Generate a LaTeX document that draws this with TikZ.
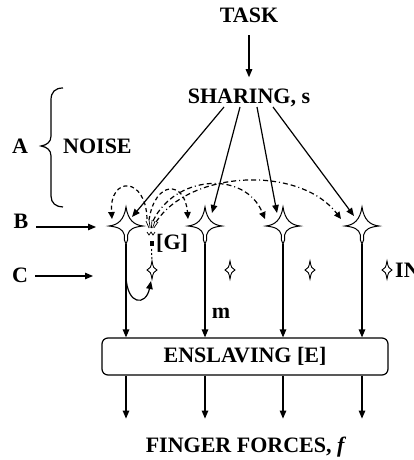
\documentclass[tikz,border=0pt]{standalone}
\usepackage{fontspec}
\setmainfont{Liberation Serif}
\usetikzlibrary{arrows.meta,calc}
\tikzset{
  lbl/.style={font=\fontsize{22}{25}\selectfont\bfseries, inner sep=0pt, anchor=base},
  arr/.style={-{Triangle[length=8pt,width=6.5pt]}, line width=1.2pt},
  darr/.style={-{Triangle[length=7pt,width=6.5pt]}, line width=1.2pt, dash pattern=on 4pt off 3pt},
  ddarr/.style={-{Triangle[length=7pt,width=6.5pt]}, line width=1.2pt, dash pattern=on 5pt off 3pt on 5pt off 3pt on 1pt off 3pt},
  neuron/.pic={
    \draw[line width=1pt, fill=white] (-1.6,14) -- (-1.6,9) .. controls (-3,3) and (-8,1) .. (-17,0)
      .. controls (-8,-1) and (-2,-6) .. (0,-19)
      .. controls (2,-6) and (8,-1) .. (17,0)
      .. controls (8,1) and (3,3) .. (1.6,9) -- (1.6,14);
    \draw[line width=1pt] (-1.6,14) -- (0,18) -- (1.6,14);
  },
  inter/.pic={
    \draw[line width=0.9pt, fill=white] (0,-9) .. controls (1,-3) and (2,-1) .. (5,0)
      .. controls (2,1) and (1,3) .. (0,9)
      .. controls (-1,3) and (-2,1) .. (-5,0)
      .. controls (-2,-1) and (-1,-3) .. cycle;
  }
}
\begin{document}
\begin{tikzpicture}[x=1pt,y=-1pt]
\useasboundingbox (0,0) rectangle (414,460);

% texts
\node[lbl] (task) at (249,23) {TASK};
\node[lbl] (sharing) at (249,103) {SHARING, s};
\node[lbl] (A) at (20,153) {A};
\node[lbl, anchor=base west] (noise) at (63,153) {NOISE};
\node[lbl] (B) at (21,228) {B};
\node[lbl] (C) at (20,282) {C};
\node[lbl, anchor=base west] (G) at (156,249) {[G]};
\node[lbl] (m) at (221,318) {m};
\node[lbl, anchor=base west] (IN) at (395,277) {IN};
\node[draw, line width=1.2pt, rounded corners=6pt, minimum width=286pt, minimum height=37pt,
      inner sep=0pt, font=\fontsize{22}{25}\selectfont\bfseries] (box) at (245,356.5) {ENSLAVING [E]};
\node[lbl] (ff) at (246,452) {FINGER FORCES, \textit{f}};

% task -> sharing
\draw[arr, shorten <=12pt, shorten >=11pt] (task.south) -- (task.south |- sharing.north);

% brace
\draw[line width=1.2pt] (63,88) .. controls (55,88) and (51,92) .. (51,100) -- (51,136)
  .. controls (51,142) and (47,145) .. (41,146) .. controls (47,147) and (51,150) .. (51,156)
  -- (51,196) .. controls (51,203) and (56,207) .. (63,207);

% neurons
\coordinate (n1) at (126,226);
\coordinate (n2) at (205,226);
\coordinate (n3) at (283,226);
\coordinate (n4) at (362,226);
\foreach \n in {n1,n2,n3,n4} { \pic at (\n) {neuron}; }

% interneurons
\coordinate (i1) at (152,270);
\coordinate (i2) at (230,270);
\coordinate (i3) at (310,270);
\coordinate (i4) at (387,270);
\foreach \n in {i1,i2,i3,i4} { \pic at (\n) {inter}; }

% sharing -> neurons
\coordinate (s1) at (224,107);
\coordinate (s2) at (240,107);
\coordinate (s3) at (257,107);
\coordinate (s4) at (273,107);
\coordinate (t1) at (132,217);
\coordinate (t2) at (212,213);
\coordinate (t3) at (277,213);
\coordinate (t4) at (354,216);
\draw[arr] (s1) -- (t1);
\draw[arr] (s2) -- (t2);
\draw[arr] (s3) -- (t3);
\draw[arr] (s4) -- (t4);

% B and C arrows
\coordinate (bs) at (36,227); \coordinate (be) at (96,227);
\coordinate (cs) at (35,276); \coordinate (ce) at (93,276);
\draw[arr] (bs) -- (be);
\draw[arr] (cs) -- (ce);

% axons to box
\foreach \n/\k in {n1/1,n2/2,n3/3,n4/4} {
  \coordinate (a\k) at ($(\n)+(0,18)$);
  \draw[arr] (a\k) -- (a\k |- box.north);
  \coordinate (f\k) at ($(\n |- box.south)+(0,43)$);
  \draw[arr] (box.south -| f\k) -- (f\k);
}

% G source marks
\coordinate (g) at (151,226);
\foreach \dx/\dy in {-5/-5,-2/-6,1/-6,4/-5,7/-4} {
  \draw[line width=0.7pt] ($(g)+(0.4*\dx,2)$) -- ($(g)+(\dx,\dy)$);
}
\draw[line width=0.7pt] (147,232) -- (149,235) -- (151,232) -- (153,235) -- (155,232);
\fill (149.5,241) rectangle (153.5,246);
\draw[line width=1pt, dash pattern=on 2pt off 2pt] (151.5,249) -- (152,261);

% dashed feedback arcs
\draw[darr] (147,219) .. controls (146,176) and (109,176) .. (112,219);
\draw[darr] (149,220) .. controls (155,180) and (185,180) .. (188,219);
\draw[ddarr] (153,221) .. controls (175,175) and (245,170) .. (265,219);
\draw[ddarr] (156,222) .. controls (190,170) and (300,165) .. (341,219);

% curved arrow from axon 1 to interneuron 1
\coordinate (c1) at (126,276);
\draw[arr] (c1) .. controls (127,306) and (146,306) .. (151,281);
\end{tikzpicture}
\end{document}
